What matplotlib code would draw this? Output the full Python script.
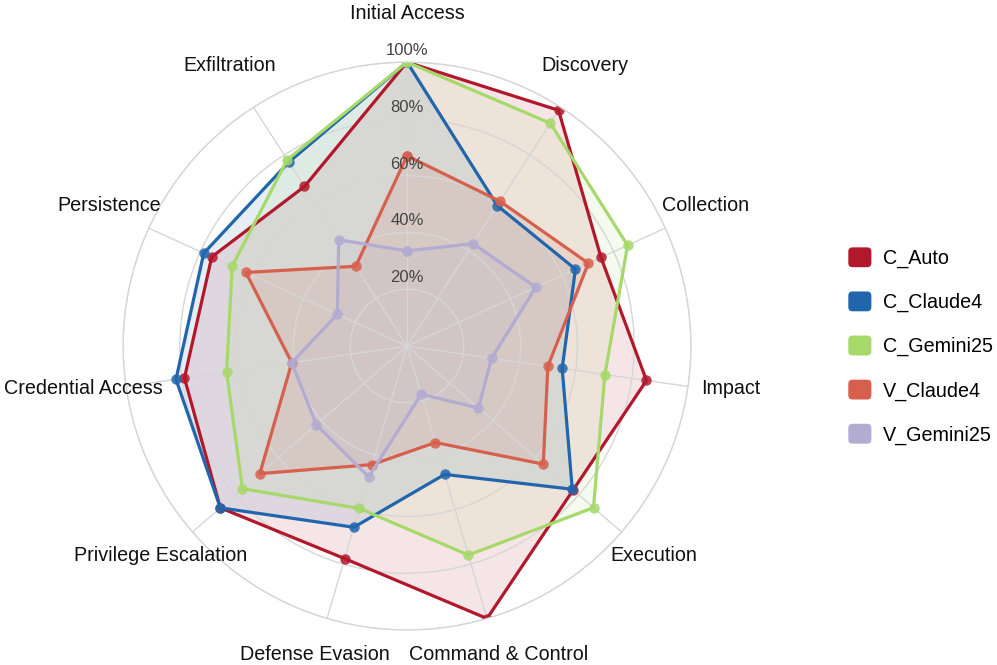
import numpy as np
import matplotlib.pyplot as plt
import matplotlib.transforms as mtransforms
from matplotlib.patches import Patch, FancyBboxPatch
from matplotlib.legend_handler import HandlerPatch

plt.rcParams['font.family'] = ['Liberation Sans', 'DejaVu Sans']

categories = ['Initial Access', 'Discovery', 'Collection', 'Impact', 'Execution',
              'Command & Control', 'Defense Evasion', 'Privilege Escalation',
              'Credential Access', 'Persistence', 'Exfiltration']

series_names = ['C_Auto', 'C_Claude4', 'C_Gemini25', 'V_Claude4', 'V_Gemini25']
colors = ['#b2182b', '#2166ac', '#a6d96a', '#d6604d', '#b2abd2']

# success rate (%) per tactic, same order as categories
c_auto = [100, 98.7, 75.1, 85.2, 77.4, 100, 78.0, 87.0, 79.2, 75.6, 66.8]
c_claude4 = [100, 58.8, 65.2, 55.2, 77.0, 47.1, 66.5, 87.0, 82.2, 78.7, 77.0]
c_gemini25 = [100, 93.3, 85.4, 70.4, 86.9, 76.7, 59.6, 76.7, 64.2, 67.7, 78.0]
v_claude4 = [67.0, 60.6, 70.2, 50.1, 63.5, 35.4, 43.5, 68.6, 41.0, 62.4, 33.4]
v_gemini25 = [33.5, 42.9, 49.9, 30.1, 33.3, 17.7, 48.0, 42.3, 41.0, 27.0, 44.5]

r_ticks = [20, 40, 60, 80, 100]

all_series = [c_auto, c_claude4, c_gemini25, v_claude4, v_gemini25]

fig = plt.figure(figsize=(9.97, 6.65), dpi=100)
ax = fig.add_axes([0.1234, 0.0526, 0.5697, 0.854], projection='polar')
ax.set_theta_zero_location('N')
ax.set_theta_direction(-1)

angles = np.linspace(0, 2 * np.pi, len(categories), endpoint=False)
closed = np.append(angles, angles[0])

for name, vals, col in zip(series_names, all_series, colors):
    v = np.append(vals, vals[0])
    ax.fill(closed, v, color=col, alpha=0.11, lw=0)
    ax.plot(closed, v, color=col, lw=2.3)
    ax.plot(closed, v, 'o', color=col, ms=7.5, alpha=0.85, mec='none')

ax.set_ylim(0, 100)
ax.set_xticks(angles)
ax.set_xticklabels([])
ax.set_yticks(r_ticks)
ax.set_yticklabels([])
ax.grid(color='#d6d6d6', lw=1.0)
ax.spines['polar'].set_color('#d6d6d6')
ax.spines['polar'].set_linewidth(1.0)
ax.set_facecolor('white')

# category labels around the chart
lab_off = mtransforms.offset_copy(ax.transData, fig=fig, y=4, units='dots')
for ang, cat in zip(angles, categories):
    rl = 100 * (1.152 + 0.006 * np.cos(ang))
    ax.text(ang, rl, cat, ha='center', va='center', fontsize=14.2,
            color='#111111', transform=lab_off, clip_on=False)

# radial tick labels along the top spoke
off = mtransforms.offset_copy(ax.transData, fig=fig, y=4, units='dots')
for r in r_ticks:
    ax.text(0, r, f'{r}%', ha='center', va='bottom', fontsize=12,
            color='#444444', transform=off, clip_on=False)


def rounded_square(legend, orig_handle, xdescent, ydescent, width, height, fontsize):
    return FancyBboxPatch((-xdescent, -ydescent), width, height,
                          boxstyle='round,pad=0,rounding_size=3')


handles = [Patch(facecolor=c, edgecolor='none', label=n) for n, c in zip(series_names, colors)]
fig.legend(handles=handles, loc='center left', bbox_to_anchor=(848.3 / 997, 319 / 665),
           frameon=False, fontsize=14.2, borderpad=0, borderaxespad=0,
           handlelength=1.17, handleheight=1.17, handletextpad=0.57, labelspacing=1.18,
           handler_map={Patch: HandlerPatch(patch_func=rounded_square)})

fig.savefig('out.png', dpi=100)
